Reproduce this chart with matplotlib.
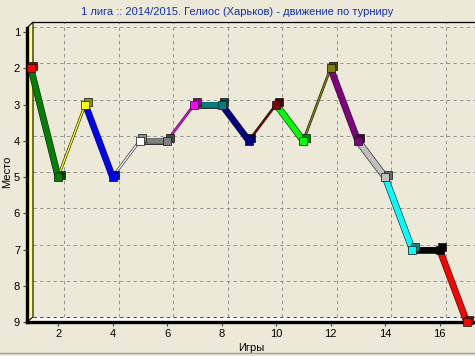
import matplotlib.pyplot as plt
import matplotlib.patheffects as pe
import matplotlib.transforms as mtransforms
from matplotlib.colors import to_rgb
from matplotlib.patches import Polygon
from matplotlib.lines import Line2D

title = "1 лига :: 2014/2015. Гелиос (Харьков) - движение по турниру"
games = list(range(1, 18))
places = [2, 5, 3, 5, 4, 4, 3, 3, 4, 3, 4, 2, 4, 5, 7, 7, 9]
point_colors = ["#FF0000", "#008000", "#FFFF00", "#0000FF", "#FFFFFF", "#808080",
                "#FF00FF", "#008080", "#000080", "#800000", "#00FF00", "#808000",
                "#800080", "#C0C0C0", "#00FFFF", "#000000", "#FF0000"]
y_ticks = list(range(1, 10))
x_ticks = list(range(2, 17, 2))

bg = "#ECE9D8"
plt.rcParams["font.family"] = ["Liberation Sans", "DejaVu Sans"]

W, H = 475, 356
fig = plt.figure(figsize=(W / 100, H / 100), dpi=100, facecolor=bg)
ax = fig.add_axes([27 / W, 34 / H, 448 / W, 300 / H])
ax.set_facecolor(bg)
ax.set_xlim(0.86, 17.3)
ax.set_ylim(9.0, 0.724)

# 3d depth offset of the back wall
depth = mtransforms.ScaledTranslation(0.06, 0.05, fig.dpi_scale_trans)

# back wall grid
for y in y_ticks:
    ax.plot([0.86, 17.3], [y, y], color="#858585" if y < 9 else "#202020",
            lw=0.6, ls=(0, (4, 4)), transform=ax.transData + depth, zorder=1)
for x in x_ticks:
    ax.plot([x, x], [9.0, 0.5], color="#858585", lw=0.6, ls=(0, (4, 4)),
            transform=ax.transData + depth, zorder=1)

# floor and left wall
dx, dy = 6 / 448, 5 / 300
ax.add_patch(Polygon([(0, 0), (dx, dy), (1, dy), (1, 0)], closed=True,
                     transform=ax.transAxes, facecolor="white", edgecolor="none", zorder=0.5))
ax.add_patch(Polygon([(0, 0), (0, 0.98), (dx, 1.0), (dx, dy)], closed=True,
                     transform=ax.transAxes, facecolor="#FFFF80", edgecolor="black",
                     lw=0.8, zorder=2, clip_on=False))

# segments, colored by end point; thin when moving up
for i in range(1, len(games)):
    up = places[i] < places[i - 1]
    lw = 1.0 if up else 4.0
    ax.plot(games[i - 1:i + 1], places[i - 1:i + 1], color=point_colors[i], lw=lw,
            solid_capstyle="butt", zorder=3,
            path_effects=[pe.Stroke(linewidth=lw + 0.9, foreground="#202020"), pe.Normal()])

# cube-like markers: darker back face, then front face
shade = mtransforms.ScaledTranslation(0.025, 0.025, fig.dpi_scale_trans)
for g, p, c in zip(games, places, point_colors):
    dark = tuple(v * 0.55 for v in to_rgb(c))
    ax.plot(g, p, marker="s", ms=5.5, color=dark, mec="#101010", mew=0.5,
            transform=ax.transData + shade, zorder=4, clip_on=False)
    ax.plot(g, p, marker="s", ms=5.5, color=c, mec="#101010", mew=0.5, zorder=5, clip_on=False)

# axes frame
ax.spines["right"].set_visible(False)
ax.spines["top"].set_linewidth(0.9)
ax.spines["top"].set_bounds(0.86 + 6 / 27.3, 17.3)
ax.spines["left"].set_linewidth(2.4)
ax.spines["bottom"].set_linewidth(2.4)
ax.spines["left"].set_bounds(9.0, 0.88)

ax.set_xticks(x_ticks)
ax.set_yticks(y_ticks)
ax.tick_params(axis="both", length=3, width=0.8, color="#404040", labelsize=8, pad=2)
ax.set_xlabel("Игры", fontsize=8, labelpad=3)
ax.set_ylabel("Место", fontsize=8, labelpad=1)

fig.text(0.5, 1 - 12 / H, title, ha="center", va="center", fontsize=8, color="#1030B0")
fig.add_artist(Line2D([0, 1], [1 - 353 / H, 1 - 353 / H], color="#A0A0A0", lw=1))

fig.savefig("out.png", dpi=100, facecolor=bg)
